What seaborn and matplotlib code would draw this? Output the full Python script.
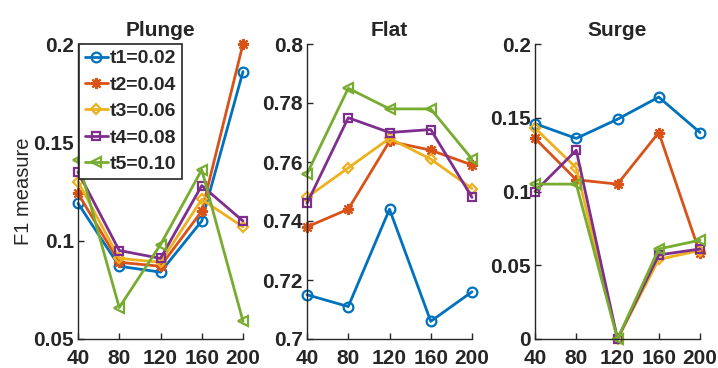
import matplotlib
matplotlib.use("Agg")
import matplotlib.pyplot as plt
import numpy as np
import pandas as pd
import seaborn as sns

# ---------------- data ----------------
x_vals = [40, 80, 120, 160, 200]
series_names = ["t1=0.02", "t2=0.04", "t3=0.06", "t4=0.08", "t5=0.10"]
panel_titles = ["Plunge", "Flat", "Surge"]

plunge_t1 = [0.119, 0.087, 0.084, 0.110, 0.186]
plunge_t2 = [0.124, 0.089, 0.087, 0.115, 0.200]
plunge_t3 = [0.130, 0.091, 0.089, 0.121, 0.107]
plunge_t4 = [0.135, 0.095, 0.091, 0.128, 0.110]
plunge_t5 = [0.141, 0.066, 0.098, 0.136, 0.059]

flat_t1 = [0.715, 0.711, 0.744, 0.706, 0.716]
flat_t2 = [0.738, 0.744, 0.767, 0.764, 0.759]
flat_t3 = [0.748, 0.758, 0.768, 0.761, 0.751]
flat_t4 = [0.746, 0.775, 0.770, 0.771, 0.748]
flat_t5 = [0.756, 0.785, 0.778, 0.778, 0.761]

surge_t1 = [0.146, 0.136, 0.149, 0.164, 0.140]
surge_t2 = [0.136, 0.108, 0.105, 0.140, 0.058]
surge_t3 = [0.143, 0.116, 0.000, 0.054, 0.060]
surge_t4 = [0.100, 0.128, 0.000, 0.057, 0.061]
surge_t5 = [0.105, 0.105, 0.000, 0.061, 0.067]

x_ticklabels = ["40", "80", "120", "160", "200"]
plunge_yticks = [0.05, 0.1, 0.15, 0.2]
plunge_yticklabels = ["0.05", "0.1", "0.15", "0.2"]
flat_yticks = [0.7, 0.72, 0.74, 0.76, 0.78, 0.8]
flat_yticklabels = ["0.7", "0.72", "0.74", "0.76", "0.78", "0.8"]
surge_yticks = [0, 0.05, 0.1, 0.15, 0.2]
surge_yticklabels = ["0", "0.05", "0.1", "0.15", "0.2"]

# ---------------- styling ----------------
colors = ["#0072BD", "#D95319", "#EDB120", "#7E2F8E", "#77AC30"]
markers = ["o", (8, 2, 0), "D", "s", "<"]
marker_sizes = [7, 8, 5.5, 6, 6.5]

sns.set_style("ticks")
plt.rcParams["font.family"] = ["Liberation Sans", "DejaVu Sans"]

panels = [
    (plunge_t1, plunge_t2, plunge_t3, plunge_t4, plunge_t5),
    (flat_t1, flat_t2, flat_t3, flat_t4, flat_t5),
    (surge_t1, surge_t2, surge_t3, surge_t4, surge_t5),
]
yticks_all = [plunge_yticks, flat_yticks, surge_yticks]
yticklabels_all = [plunge_yticklabels, flat_yticklabels, surge_yticklabels]

fig = plt.figure(figsize=(7.18, 3.68), dpi=100)
W, H = 718.0, 368.0
lefts = [78, 307, 535]
ax_w = 165
ax_bottom = 339
ax_top = 44

palette = dict(zip(series_names, colors))

for i, (series, title) in enumerate(zip(panels, panel_titles)):
    ax = fig.add_axes([lefts[i] / W, 1 - ax_bottom / H, ax_w / W, (ax_bottom - ax_top) / H])
    rows = []
    for name, vals in zip(series_names, series):
        for xv, yv in zip(x_vals, vals):
            rows.append({"x": xv, "y": yv, "series": name})
    df = pd.DataFrame(rows)
    sns.lineplot(data=df, x="x", y="y", hue="series",
                 palette=palette, hue_order=series_names,
                 linewidth=2, legend=False, ax=ax, estimator=None, sort=False)
    for line, mk, ms in zip(ax.lines, markers, marker_sizes):
        c = line.get_color()
        line.set_marker(mk)
        line.set_markerfacecolor("none")
        line.set_markeredgecolor(c)
        line.set_markeredgewidth(1.6)
        line.set_markersize(ms)
        line.set_clip_on(False)

    ax.set_xlim(40, 200)
    ax.set_ylim(yticks_all[i][0], yticks_all[i][-1])
    ax.set_xticks(x_vals)
    ax.set_xticklabels(x_ticklabels, fontweight="bold")
    ax.set_yticks(yticks_all[i])
    ax.set_yticklabels(yticklabels_all[i], fontweight="bold")
    ax.tick_params(direction="in", length=4, width=1, labelsize=15,
                   color="#262626", labelcolor="#262626")
    ax.tick_params(axis="x", pad=7.5)
    ax.tick_params(axis="y", pad=3)
    for s in ["top", "right"]:
        ax.spines[s].set_visible(False)
    for s in ["left", "bottom"]:
        ax.spines[s].set_color("#262626")
        ax.spines[s].set_linewidth(1)
    ax.set_xlabel("")
    ax.set_ylabel("")
    ax.set_title(title, fontsize=15, fontweight="bold", pad=6)

    if i == 0:
        ax.set_ylabel("F1 measure", fontsize=14.5, labelpad=0)
        leg = ax.legend(handles=list(ax.lines), labels=series_names,
                        loc="upper left", bbox_to_anchor=(0.005, 1.0),
                        borderaxespad=0, frameon=True, fancybox=False,
                        edgecolor="#262626", framealpha=1,
                        prop={"weight": "bold", "size": 14},
                        handlelength=1.2, handletextpad=0.1,
                        borderpad=0.3, labelspacing=0.45)
        leg.get_frame().set_linewidth(1.2)

fig.savefig("out.png", dpi=100)
